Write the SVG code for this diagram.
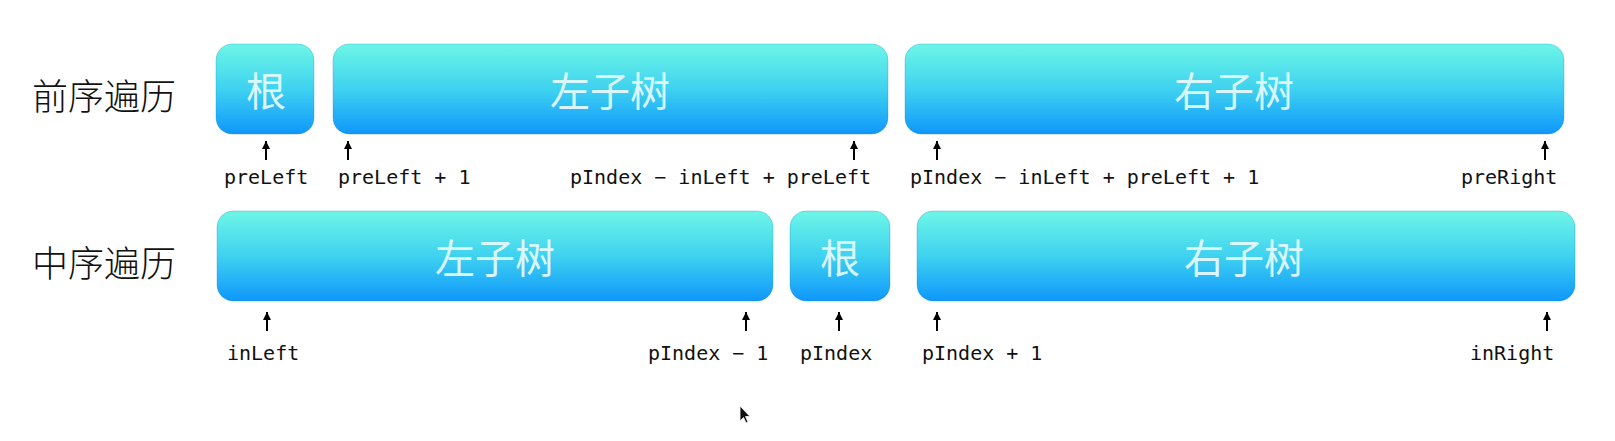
<svg xmlns="http://www.w3.org/2000/svg" width="1615" height="441" viewBox="0 0 1615 441">
<defs>
<linearGradient id="g" x1="0" y1="0" x2="0" y2="1">
<stop offset="0" stop-color="#6ef6e6"/>
<stop offset="0.5" stop-color="#3fd2f0"/>
<stop offset="1" stop-color="#0f97fb"/>
</linearGradient>
<marker id="ah" viewBox="0 0 10 10" refX="10" refY="5" markerWidth="8" markerHeight="8" orient="auto-start-reverse" markerUnits="userSpaceOnUse">
<path d="M0,0 L10,5 L0,10 Z" fill="#000"/>
</marker>
</defs>
<style>
.box{fill:url(#g);stroke:#1089e6;stroke-opacity:0.3;stroke-width:1}
.bl{font-family:"Noto Sans CJK SC",sans-serif;font-size:40px;fill:#eafcff;fill-opacity:0.92;text-anchor:middle;dominant-baseline:central}
.rl{font-family:"Noto Sans CJK SC",sans-serif;font-size:36px;font-weight:300;fill:#111;dominant-baseline:central}
.code{font-family:"DejaVu Sans Mono","Liberation Mono",monospace;font-size:20px;fill:#111}
.arr{stroke:#000;stroke-width:2;marker-start:url(#ah)}
</style>
<rect width="1615" height="441" fill="#fff"/>
<text class="rl" x="32" y="94">前序遍历</text>
<text class="rl" x="32" y="261">中序遍历</text>
<g id="pre-root"><rect class="box" x="216" y="44" width="98" height="90" rx="16"/><text class="bl" x="266" y="89">根</text></g>
<g id="pre-left"><rect class="box" x="333" y="44" width="555" height="90" rx="16"/><text class="bl" x="610" y="89">左子树</text></g>
<g id="pre-right"><rect class="box" x="905" y="44" width="659" height="90" rx="16"/><text class="bl" x="1234" y="89">右子树</text></g>
<g id="in-left"><rect class="box" x="217" y="211" width="556" height="90" rx="16"/><text class="bl" x="495" y="256">左子树</text></g>
<g id="in-root"><rect class="box" x="790" y="211" width="100" height="90" rx="16"/><text class="bl" x="840" y="256">根</text></g>
<g id="in-right"><rect class="box" x="917" y="211" width="658" height="90" rx="16"/><text class="bl" x="1244" y="256">右子树</text></g>
<g id="connectors">
<line class="arr" x1="266" y1="141" x2="266" y2="160"/>
<line class="arr" x1="348" y1="141" x2="348" y2="160"/>
<line class="arr" x1="854" y1="141" x2="854" y2="160"/>
<line class="arr" x1="937" y1="141" x2="937" y2="160"/>
<line class="arr" x1="1545" y1="141" x2="1545" y2="160"/>
<line class="arr" x1="267" y1="312" x2="267" y2="331"/>
<line class="arr" x1="746" y1="312" x2="746" y2="331"/>
<line class="arr" x1="839" y1="312" x2="839" y2="331"/>
<line class="arr" x1="937" y1="312" x2="937" y2="331"/>
<line class="arr" x1="1547" y1="312" x2="1547" y2="331"/>
</g>
<g id="labels">
<text class="code" x="224" y="184">preLeft</text>
<text class="code" x="338" y="184">preLeft + 1</text>
<text class="code" x="570" y="184">pIndex − inLeft + preLeft</text>
<text class="code" x="910" y="184">pIndex − inLeft + preLeft + 1</text>
<text class="code" x="1461" y="184">preRight</text>
<text class="code" x="227" y="360">inLeft</text>
<text class="code" x="648" y="360">pIndex − 1</text>
<text class="code" x="800" y="360">pIndex</text>
<text class="code" x="922" y="360">pIndex + 1</text>
<text class="code" x="1470" y="360">inRight</text>
</g>
<path d="M740,406 L740,421 L743.5,417.5 L746,423 L748,422 L745.5,416.5 L750,416.5 Z" fill="#111" stroke="#fff" stroke-width="0.8"/>
</svg>
